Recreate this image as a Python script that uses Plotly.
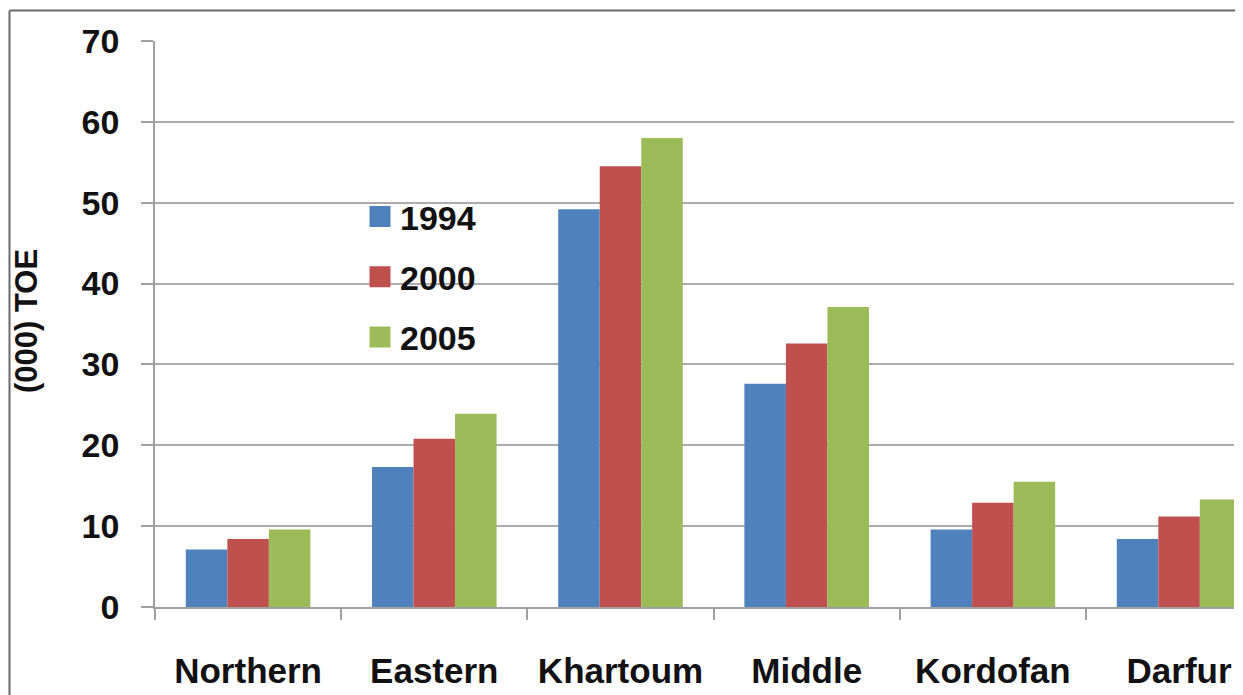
import plotly.graph_objects as go

categories = ["Northern", "Eastern", "Khartoum", "Middle", "Kordofan", "Darfur"]
years = ["1994", "2000", "2005"]
v1994 = [7.1, 17.3, 49.2, 27.6, 9.6, 8.4]
v2000 = [8.4, 20.8, 54.5, 32.6, 12.9, 11.2]
v2005 = [9.6, 23.9, 58.0, 37.1, 15.5, 13.3]
y_ticks = [0, 10, 20, 30, 40, 50, 60, 70]
y_title = "(000) TOE"

colors = ["#4F81BD", "#C0504D", "#9BBB59"]
series = [v1994, v2000, v2005]

OFF = 8  # page body margin
W, H = 1243 - OFF, 695 - OFF
ML, MR, MT, MB = 155 - OFF, 9, 41 - OFF, 88
pw = W - ML - MR
ph = H - MT - MB

def px_x(px):
    return (px - OFF - ML) / pw

def px_y(py):
    return (H - MB - (py - OFF)) / ph

fig = go.Figure()
for name, vals, c in zip(years, series, colors):
    fig.add_trace(go.Bar(x=categories, y=vals, name=name, marker=dict(color=c, line=dict(width=0)),
                         showlegend=False))
for name, c in zip(years, colors):
    fig.add_trace(go.Scatter(x=[None], y=[None], mode="markers", name=name, legendgroup=name,
                             marker=dict(symbol="square", size=16, color=c, line=dict(color=c, width=5))))

font_family = "Liberation Sans, Arial, sans-serif"
fig.update_layout(
    width=W, height=H,
    margin=dict(l=ML, r=MR, t=MT, b=MB, autoexpand=False),
    paper_bgcolor="white", plot_bgcolor="white",
    barmode="group", bargap=0.331, bargroupgap=0,
    font=dict(family=font_family, color="#111111"),
    legend=dict(x=px_x(360), y=px_y(188), xanchor="left", yanchor="top",
                traceorder="grouped", tracegroupgap=13,
                font=dict(size=34, family=font_family, weight="bold"),
                bgcolor="rgba(0,0,0,0)"),
    xaxis=dict(range=[-0.5, 5.295], tickson="boundaries", ticks="outside", ticklen=11, tickwidth=1.5,
               tickcolor="#a0a0a0", showline=True, linecolor="#a0a0a0", linewidth=1.5,
               showgrid=False, ticklabelstandoff=32,
               tickfont=dict(size=35, family=font_family, weight="bold", color="#111111")),
    yaxis=dict(range=[0, 70], tickvals=y_ticks, ticks="outside", ticklen=12, tickwidth=1.5,
               tickcolor="#a0a0a0", showline=True, linecolor="#a0a0a0", linewidth=1.5,
               showgrid=True, gridcolor="#acacac", gridwidth=1.5, zeroline=False,
               ticklabelstandoff=15,
               tickfont=dict(size=34, family=font_family, weight="bold", color="#111111")),
    shapes=[
        dict(type="line", xref="paper", yref="paper", x0=px_x(9.5), x1=px_x(9.5), y0=px_y(10.5), y1=px_y(705),
             line=dict(color="#6a6a6a", width=2)),
        dict(type="line", xref="paper", yref="paper", x0=px_x(9.5), x1=px_x(1250), y0=px_y(10.5), y1=px_y(10.5),
             line=dict(color="#6a6a6a", width=2)),
    ],
    annotations=[
        dict(text=y_title, xref="paper", yref="paper", x=px_x(26), y=px_y(321), textangle=-90,
             showarrow=False, xanchor="center", yanchor="middle",
             font=dict(size=31, family=font_family, weight="bold", color="#111111")),
    ],
)

fig.write_html("out.html")
